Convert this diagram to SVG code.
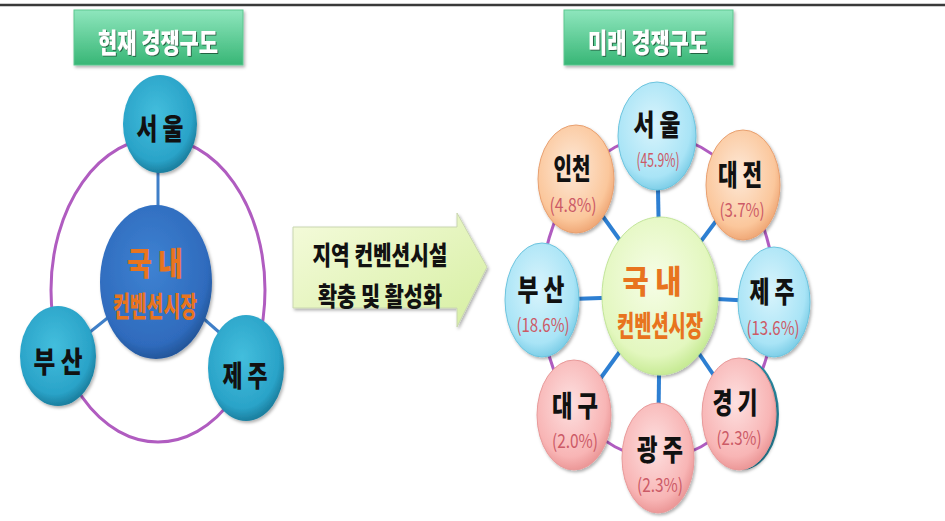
<svg xmlns="http://www.w3.org/2000/svg" width="945" height="521" viewBox="0 0 945 521">
<defs>
<linearGradient id="gTitle" x1="0" y1="0" x2="0" y2="1"><stop offset="0" stop-color="#8ee6bd"/><stop offset="1" stop-color="#38b676"/></linearGradient>
<linearGradient id="gArrow" x1="0" y1="0" x2="1" y2="1"><stop offset="0" stop-color="#f5fbdc"/><stop offset="1" stop-color="#d6efa2"/></linearGradient>
<radialGradient id="gTeal" cx="0.45" cy="0.4" r="0.6"><stop offset="0" stop-color="#43bedd"/><stop offset="0.8" stop-color="#2aa3c8"/><stop offset="1" stop-color="#1b7f9f"/></radialGradient>
<radialGradient id="gBlue" cx="0.45" cy="0.4" r="0.6"><stop offset="0" stop-color="#3e82d2"/><stop offset="0.85" stop-color="#2f6bbd"/><stop offset="1" stop-color="#24579c"/></radialGradient>
<radialGradient id="gLBlue" cx="0.45" cy="0.4" r="0.6"><stop offset="0" stop-color="#d9f4fc"/><stop offset="0.8" stop-color="#a9e4f6"/><stop offset="1" stop-color="#7fcfe8"/></radialGradient>
<radialGradient id="gPeach" cx="0.45" cy="0.4" r="0.6"><stop offset="0" stop-color="#fde9d8"/><stop offset="0.8" stop-color="#fbc79c"/><stop offset="1" stop-color="#f0a978"/></radialGradient>
<radialGradient id="gPink" cx="0.45" cy="0.4" r="0.6"><stop offset="0" stop-color="#fde0e0"/><stop offset="0.8" stop-color="#f8b5b5"/><stop offset="1" stop-color="#ec9898"/></radialGradient>
<radialGradient id="gGreen" cx="0.45" cy="0.4" r="0.6"><stop offset="0" stop-color="#f6fde6"/><stop offset="0.8" stop-color="#e3f7bf"/><stop offset="1" stop-color="#c8eb96"/></radialGradient>
<filter id="sh" x="-20%" y="-20%" width="150%" height="150%"><feDropShadow dx="1.5" dy="2" stdDeviation="1.5" flood-color="#000" flood-opacity="0.3"/></filter>
<filter id="tsh" x="-10%" y="-20%" width="130%" height="150%"><feDropShadow dx="1" dy="1" stdDeviation="0.6" flood-color="#1a5a3a" flood-opacity="0.9"/></filter>
</defs>
<style>
text{font-family:"Noto Sans CJK KR","Noto Sans",sans-serif;font-weight:900;text-anchor:middle}
.ring{fill:none;stroke:#b05cc0;stroke-width:3}
.spoke{stroke:#2d7fd2;stroke-width:4}
.lspoke{stroke:#3f7fc8;stroke-width:3}
.title{fill:url(#gTitle);stroke:#5cc790;stroke-width:1}
.ttl{fill:#ffffff;font-size:27px}
.nm{fill:#111111;font-size:29px}
.pc{fill:#cc5a66;font-size:19px;font-weight:normal}
.org{fill:#e8741e}
</style>
<rect x="0" y="0" width="945" height="521" fill="#ffffff"/>
<line x1="0" y1="5" x2="945" y2="5" stroke="#3a3a3a" stroke-width="2.5"/>

<g id="left-title">
<rect class="title" x="74" y="10" width="169" height="55" filter="url(#sh)"/>
<text class="ttl" x="158" y="53" textLength="120" lengthAdjust="spacingAndGlyphs" filter="url(#tsh)">현재 경쟁구도</text>
</g>
<g id="right-title">
<rect class="title" x="564" y="10" width="169" height="55" filter="url(#sh)"/>
<text class="ttl" x="648" y="53" textLength="120" lengthAdjust="spacingAndGlyphs" filter="url(#tsh)">미래 경쟁구도</text>
</g>

<g id="connectors">
<ellipse class="ring" cx="158" cy="290" rx="107" ry="152"/>
<line class="lspoke" x1="158" y1="170" x2="158" y2="210"/>
<line class="lspoke" x1="80" y1="340" x2="115" y2="312"/>
<line class="lspoke" x1="196" y1="312" x2="228" y2="340"/>
<ellipse class="ring" cx="658" cy="297" rx="117" ry="161" stroke-width="4"/>
<line class="spoke" x1="660" y1="296" x2="657" y2="136"/>
<line class="spoke" x1="660" y1="296" x2="576" y2="179"/>
<line class="spoke" x1="660" y1="296" x2="743" y2="185"/>
<line class="spoke" x1="660" y1="296" x2="542" y2="300"/>
<line class="spoke" x1="660" y1="296" x2="774" y2="302"/>
<line class="spoke" x1="660" y1="296" x2="574" y2="415"/>
<line class="spoke" x1="660" y1="296" x2="658" y2="458"/>
<line class="spoke" x1="660" y1="296" x2="740" y2="414"/>
</g>

<g id="l-seoul"><ellipse cx="160" cy="124" rx="37" ry="49" fill="url(#gTeal)" filter="url(#sh)"/><text class="nm" x="160" y="140" font-size="33" textLength="47" lengthAdjust="spacingAndGlyphs">서 울</text></g>
<g id="l-center"><ellipse cx="156" cy="282" rx="56" ry="77" fill="url(#gBlue)" filter="url(#sh)"/><text class="org" x="155" y="275" font-size="32" textLength="56" lengthAdjust="spacingAndGlyphs">국 내</text><text class="org" x="155" y="317" font-size="28" textLength="84" lengthAdjust="spacingAndGlyphs">컨벤션시장</text></g>
<g id="l-busan"><ellipse cx="58" cy="356" rx="38" ry="50" fill="url(#gTeal)" filter="url(#sh)"/><text class="nm" x="58" y="373" font-size="33" textLength="49" lengthAdjust="spacingAndGlyphs">부 산</text></g>
<g id="l-jeju"><ellipse cx="246" cy="368" rx="38" ry="53" fill="url(#gTeal)" filter="url(#sh)"/><text class="nm" x="245" y="387" font-size="33" textLength="45" lengthAdjust="spacingAndGlyphs">제 주</text></g>

<g id="arrow">
<path d="M293 227 H457 V213 L487 267 L457 327 V308 H293 Z" fill="url(#gArrow)" stroke="#c9d6b0" stroke-width="1" filter="url(#sh)"/>
<text x="380" y="265" font-size="26" fill="#111" textLength="135" lengthAdjust="spacingAndGlyphs">지역 컨벤션시설</text>
<text x="380" y="306" font-size="26" fill="#111" textLength="124" lengthAdjust="spacingAndGlyphs">확충 및 활성화</text>
</g>

<g id="r-seoul"><ellipse cx="657" cy="136" rx="39" ry="54" fill="url(#gLBlue)" stroke="#6cc4de" filter="url(#sh)"/><text class="nm" x="657" y="136" textLength="47" lengthAdjust="spacingAndGlyphs">서 울</text><text class="pc" x="658" y="167" textLength="43" lengthAdjust="spacingAndGlyphs">(45.9%)</text></g>
<g id="r-incheon"><ellipse cx="576" cy="179" rx="38" ry="54" fill="url(#gPeach)" stroke="#e8a070" filter="url(#sh)"/><text class="nm" x="572" y="180" textLength="37" lengthAdjust="spacingAndGlyphs">인천</text><text class="pc" x="573" y="212" textLength="47" lengthAdjust="spacingAndGlyphs">(4.8%)</text></g>
<g id="r-daejeon"><ellipse cx="743" cy="185" rx="37" ry="55" fill="url(#gPeach)" stroke="#e8a070" filter="url(#sh)"/><text class="nm" x="740" y="186" textLength="44" lengthAdjust="spacingAndGlyphs">대 전</text><text class="pc" x="742" y="217" textLength="45" lengthAdjust="spacingAndGlyphs">(3.7%)</text></g>
<g id="r-busan"><ellipse cx="542" cy="300" rx="37" ry="57" fill="url(#gLBlue)" stroke="#6cc4de" filter="url(#sh)"/><text class="nm" x="541" y="301" textLength="47" lengthAdjust="spacingAndGlyphs">부 산</text><text class="pc" x="543" y="332" textLength="53" lengthAdjust="spacingAndGlyphs">(18.6%)</text></g>
<g id="r-center"><ellipse cx="660" cy="296" rx="58" ry="79" fill="url(#gGreen)" stroke="#c2e59a" filter="url(#sh)"/><text class="org" x="652" y="293" font-size="32" textLength="59" lengthAdjust="spacingAndGlyphs">국 내</text><text class="org" x="660" y="337" font-size="29" textLength="86" lengthAdjust="spacingAndGlyphs">컨벤션시장</text></g>
<g id="r-jeju"><ellipse cx="774" cy="302" rx="36" ry="55" fill="url(#gLBlue)" stroke="#6cc4de" filter="url(#sh)"/><text class="nm" x="772" y="303" textLength="45" lengthAdjust="spacingAndGlyphs">제 주</text><text class="pc" x="773" y="335" textLength="53" lengthAdjust="spacingAndGlyphs">(13.6%)</text></g>
<g id="r-daegu"><ellipse cx="574" cy="415" rx="37" ry="55" fill="url(#gPink)" stroke="#e89a9a" filter="url(#sh)"/><text class="nm" x="575" y="417" textLength="46" lengthAdjust="spacingAndGlyphs">대 구</text><text class="pc" x="575" y="448" textLength="46" lengthAdjust="spacingAndGlyphs">(2.0%)</text></g>
<g id="r-gwangju"><ellipse cx="658" cy="458" rx="36" ry="55" fill="url(#gPink)" stroke="#e89a9a" filter="url(#sh)"/><text class="nm" x="660" y="461" textLength="46" lengthAdjust="spacingAndGlyphs">광 주</text><text class="pc" x="660" y="492" textLength="46" lengthAdjust="spacingAndGlyphs">(2.3%)</text></g>
<g id="r-gyeonggi"><ellipse cx="742" cy="414" rx="37" ry="56" fill="#2b8fa8"/><ellipse cx="739" cy="414" rx="37" ry="56" fill="url(#gPink)" stroke="#e89a9a" filter="url(#sh)"/><text class="nm" x="735" y="414" textLength="45" lengthAdjust="spacingAndGlyphs">경 기</text><text class="pc" x="739" y="445" textLength="45" lengthAdjust="spacingAndGlyphs">(2.3%)</text></g>
</svg>
